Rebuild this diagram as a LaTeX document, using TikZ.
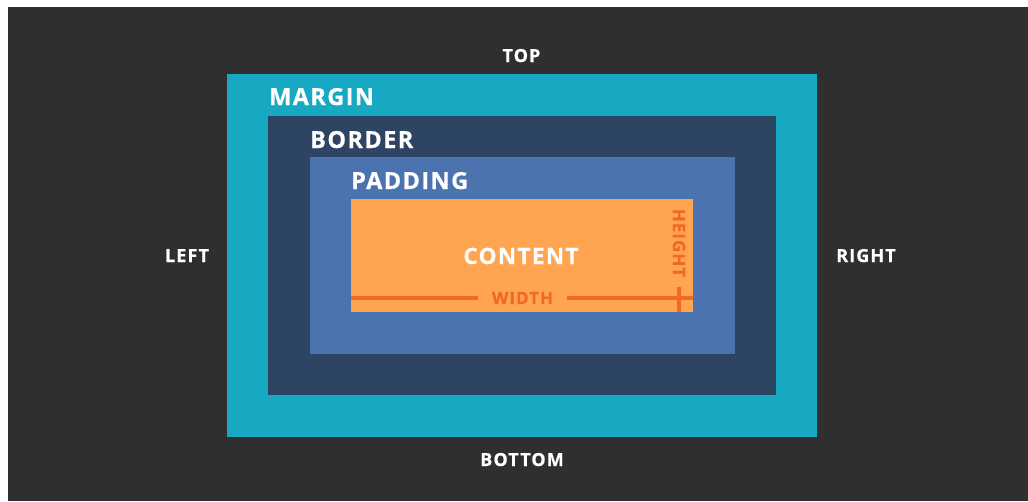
\documentclass[tikz,border=0pt]{standalone}
\usepackage{fontspec}
\setmainfont{Open Sans}
\newfontfamily\lblfont[LetterSpace=6,FakeBold=0.6]{Open Sans Bold}
\definecolor{bgdark}{HTML}{2F2F2F}
\definecolor{marginc}{HTML}{17A9C2}
\definecolor{borderc}{HTML}{2D4462}
\definecolor{paddingc}{HTML}{4A73B0}
\definecolor{contentc}{HTML}{FFA552}
\definecolor{dimc}{HTML}{F06A25}
\begin{document}
\begin{tikzpicture}[x=1pt,y=-1pt,
  sidelbl/.style={inner sep=0,anchor=base,text=white,font=\lblfont\fontsize{18}{18}\selectfont},
  boxlbl/.style={inner sep=0,anchor=base west,text=white,font=\lblfont\fontsize{23.5}{23.5}\selectfont},
  dimlbl/.style={inner sep=0,text=dimc,font=\lblfont\fontsize{17}{17}\selectfont},
  dimline/.style={draw=dimc,line width=3.5pt}]
\useasboundingbox (0,0) rectangle (1028,501);
\fill[white] (0,0) rectangle (1028,501);
\fill[bgdark] (8,7) rectangle (1028,501);
% nested boxes
\node[fill=marginc,inner sep=0,minimum width=590pt,minimum height=363pt] (margin) at (522,255.5) {};
\node[fill=borderc,inner sep=0,minimum width=508pt,minimum height=279pt] (border) at (522,255.5) {};
\node[fill=paddingc,inner sep=0,minimum width=425pt,minimum height=197pt] (padding) at (522,255.5) {};
\node[fill=contentc,inner sep=0,minimum width=342pt,minimum height=113pt] (content) at (522,255.5) {};
% side labels
\node[sidelbl] (top) at (521.5,62) {TOP};
\node[sidelbl] (bottom) at (522,466) {BOTTOM};
\node[sidelbl] (left) at (187,262) {LEFT};
\node[sidelbl] (right) at (866,262) {RIGHT};
% box labels
\node[boxlbl] (lmargin) at (269,105) {MARGIN};
\node[boxlbl] (lborder) at (310,148) {BORDER};
\node[boxlbl] (lpadding) at (351,189) {PADDING};
\node[sidelbl,font=\lblfont\fontsize{22.5}{22.5}\selectfont] (lcontent) at (521,264) {CONTENT};
% dimensions
\node[dimlbl,anchor=base] (lwidth) at (522.5,304) {WIDTH};
\node[dimlbl,rotate=-90] (lheight) at (679,243) {HEIGHT};
\coordinate (wl) at (content.west |- 0,298);
\coordinate (wr) at (content.east |- 0,298);
\coordinate (wlt) at (478,298);
\coordinate (wrt) at (567,298);
\coordinate (htop) at (679,287);
\coordinate (hbot) at (679,312);
\draw[dimline] (wl) -- (wlt);
\draw[dimline] (wrt) -- (wr);
\draw[dimline] (htop) -- (hbot);
\end{tikzpicture}
\end{document}
